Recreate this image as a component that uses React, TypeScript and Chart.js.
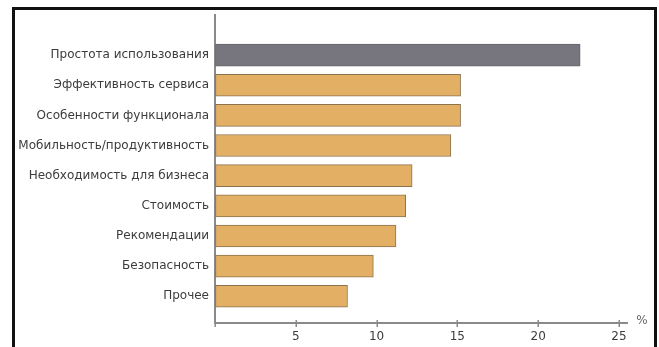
import React, { useEffect, useRef } from "react";
import { Chart, registerables } from "chart.js";

Chart.register(...registerables);

const categories: string[] = [
  "Простота использования",
  "Эффективность сервиса",
  "Особенности функционала",
  "Мобильность/продуктивность",
  "Необходимость для бизнеса",
  "Стоимость",
  "Рекомендации",
  "Безопасность",
  "Прочее",
];

const values: number[] = [22.6, 15.2, 15.2, 14.6, 12.2, 11.8, 11.2, 9.8, 8.2];

const xTicks: number[] = [0, 5, 10, 15, 20, 25];

const unitLabel = "%";

const GREY = "#77767e";
const ORANGE = "#e3af64";
const TEXT = "#3c3c3c";
const AXIS = "#8a8a8a";
const FONT = "DejaVu Sans, sans-serif";

// White page, black frame, tick marks that cross the x axis and the unit sign
const framePlugin = {
  id: "frame",
  beforeDraw(chart: any) {
    const { ctx, width, height } = chart;
    ctx.save();
    ctx.fillStyle = "#ffffff";
    ctx.fillRect(0, 0, width, height);
    ctx.strokeStyle = "#111111";
    ctx.lineWidth = 3;
    ctx.strokeRect(13.5, 8.5, 642, height + 20);
    ctx.restore();
  },
  afterDraw(chart: any) {
    const { ctx, chartArea, scales } = chart;
    const xs = scales.x;
    ctx.save();
    ctx.strokeStyle = AXIS;
    ctx.lineWidth = 1.5;
    ctx.beginPath();
    xs.ticks.forEach((t: any) => {
      const px = Math.round(xs.getPixelForValue(t.value)) + 0.25;
      const top = t.value === 0 ? chartArea.bottom : chartArea.bottom - 3;
      ctx.moveTo(px, top);
      ctx.lineTo(px, chartArea.bottom + 4);
    });
    ctx.stroke();
    ctx.fillStyle = "#666666";
    ctx.font = `12px ${FONT}`;
    ctx.textAlign = "center";
    ctx.textBaseline = "middle";
    ctx.fillText(unitLabel, chartArea.right + 15, chartArea.bottom - 2);
    ctx.restore();
  },
};

export default function App() {
  const ref = useRef<HTMLCanvasElement | null>(null);

  useEffect(() => {
    if (!ref.current) return;
    const chart = new Chart(ref.current, {
      type: "bar",
      data: {
        datasets: [
          {
            data: values.map((v, i) => ({ x: v, y: i })),
            backgroundColor: values.map((_, i) => (i === 0 ? GREY : ORANGE)),
            borderColor: values.map((_, i) => (i === 0 ? "#65646a" : "#8c7350")),
            borderWidth: 1,
            borderSkipped: false,
            barThickness: 22,
          },
        ],
      },
      options: {
        indexAxis: "y",
        responsive: false,
        animation: false,
        layout: { padding: { top: 15, right: 32, left: 0, bottom: 0 } },
        plugins: { legend: { display: false }, tooltip: { enabled: false } },
        scales: {
          x: {
            type: "linear",
            min: 0,
            max: 25.5,
            afterBuildTicks: (scale: any) => {
              scale.ticks = xTicks.map((v) => ({ value: v }));
            },
            afterFit: (scale: any) => {
              scale.height = 24;
            },
            grid: {
              display: true,
              drawOnChartArea: false,
              drawTicks: true,
              tickLength: 4,
              color: "rgba(0,0,0,0)",
            },
            border: { display: true, color: AXIS, width: 2 },
            ticks: {
              padding: 3,
              color: TEXT,
              font: { family: FONT, size: 12 },
              callback: (v: any) => (v === 0 ? "" : String(v)),
            },
          },
          y: {
            type: "linear",
            reverse: true,
            offset: false,
            min: -1.33,
            max: 8.887,
            afterBuildTicks: (scale: any) => {
              scale.ticks = categories.map((_, i) => ({ value: i }));
            },
            afterFit: (scale: any) => {
              scale.width = 215;
            },
            grid: { display: false, drawTicks: false, offset: false },
            border: { display: true, color: AXIS, width: 2 },
            ticks: {
              padding: 6,
              color: TEXT,
              font: { family: FONT, size: 12 },
              callback: (v: any) => categories[v as number] ?? "",
            },
          },
        },
      },
      plugins: [framePlugin],
    });
    return () => chart.destroy();
  }, []);

  return (
    <div style={{ position: "absolute", left: 0, top: 0, width: 659, height: 347 }}>
      <canvas ref={ref} width={659} height={347} />
    </div>
  );
}
